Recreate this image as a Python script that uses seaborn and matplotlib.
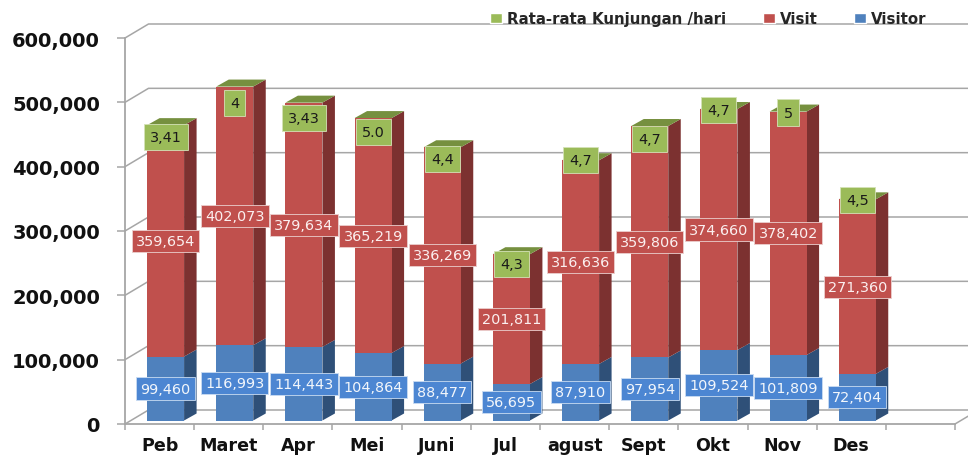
import numpy as np
import matplotlib
matplotlib.use("Agg")
import matplotlib.pyplot as plt
from matplotlib.patches import Patch, Polygon
import seaborn as sns

months = ["Peb", "Maret", "Apr", "Mei", "Juni", "Jul", "agust", "Sept", "Okt", "Nov", "Des"]
visitor = [99460, 116993, 114443, 104864, 88477, 56695, 87910, 97954, 109524, 101809, 72404]
visit = [359654, 402073, 379634, 365219, 336269, 201811, 316636, 359806, 374660, 378402, 271360]
rate = [3.41, 4, 3.43, 5.0, 4.4, 4.3, 4.7, 4.7, 4.7, 5, 4.5]
rate_text = ["3,41", "4", "3,43", "5.0", "4,4", "4,3", "4,7", "4,7", "4,7", "5", "4,5"]
yticks = [0, 100000, 200000, 300000, 400000, 500000, 600000]

# label nudges (pixels below bar top) and styling
rate_nudge = [12, 16, 15, 14, 12, 10, 0, 13, 1, 1, 1]
BLUE, RED, GREEN = "#4F81BD", "#C0504D", "#9BBB59"
BLUE_S, RED_S, GREEN_T = "#2F5078", "#7C3130", "#76903F"
GRID = "#A6A6A6"

W, H = 968, 456
sns.set_theme(style="white")
plt.rcParams["font.family"] = ["DejaVu Sans"]
fig = plt.figure(figsize=(W / 100, H / 100), dpi=100)
ax = fig.add_axes([125 / W, 1 - 425 / H, 830 / W, 386 / H])
ax.patch.set_alpha(0)

n_slots = 12
ax.set_xlim(-0.5, n_slots - 0.5)
ax.set_ylim(0, 600000)
px_x = n_slots / 830.0
px_y = 600000 / 386.0

wall_dx, wall_dy = 23.5 * px_x, 14 * px_y
bar_w = 37 * px_x
bar_dx, bar_dy = 12.5 * px_x, 7 * px_y
off_x, off_y = 6 * px_x, 3.5 * px_y

# walls
for v in yticks:
    ax.plot([-0.5, -0.5 + wall_dx, n_slots - 0.5 + wall_dx],
            [v, v + wall_dy, v + wall_dy],
            color=GRID, lw=1.1, clip_on=False, zorder=1, solid_joinstyle="round")
ax.plot([n_slots - 0.5, n_slots - 0.5 + wall_dx], [0, wall_dy], color=GRID, lw=1.1, clip_on=False, zorder=1)

# front faces via seaborn
xs = np.arange(len(months)) + off_x
vis = np.array(visitor, float)
vst = np.array(visit, float)
rt = np.array(rate, float)
bar_args = dict(native_scale=True, width=bar_w, saturation=1, ax=ax, zorder=4, linewidth=0, legend=False)
sns.barplot(x=xs, y=vis, bottom=off_y, color=BLUE, **bar_args)
sns.barplot(x=xs, y=vst, bottom=off_y + vis, color=RED, **bar_args)
sns.barplot(x=xs, y=rt, bottom=off_y + vis + vst, color=GREEN, **bar_args)
ax.set_xlim(-0.5, n_slots - 0.5)
ax.set_ylim(0, 600000)

# depth faces computed from the data
for i, x in enumerate(xs):
    xl, xr = x - bar_w / 2, x + bar_w / 2
    b0 = off_y
    b1 = b0 + vis[i]
    b2 = b1 + vst[i]
    for lo, hi, c in ((b0, b1, BLUE_S), (b1, b2, RED_S)):
        ax.add_patch(Polygon([(xr, lo), (xr + bar_dx, lo + bar_dy), (xr + bar_dx, hi + bar_dy), (xr, hi)],
                             closed=True, fc=c, ec="none", zorder=3, clip_on=False))
    ax.add_patch(Polygon([(xl, b2), (xr, b2), (xr + bar_dx, b2 + bar_dy), (xl + bar_dx, b2 + bar_dy)],
                         closed=True, fc=GREEN_T, ec="none", zorder=3, clip_on=False))

# data labels
for i, x in enumerate(xs):
    b1 = off_y + vis[i]
    b2 = b1 + vst[i]
    ax.text(x, off_y + vis[i] / 2, f"{visitor[i]:,}", ha="center", va="center", color="#F2F6FB",
            fontsize=10.4, zorder=6, clip_on=False,
            bbox=dict(boxstyle="square,pad=0.28", fc="#4C86D2", ec="#C9DCF2", lw=0.6))
    ax.text(x, b1 + vst[i] / 2, f"{visit[i]:,}", ha="center", va="center", color="#FBEFEF",
            fontsize=10.4, zorder=7 + i * 0.01, clip_on=False,
            bbox=dict(boxstyle="square,pad=0.28", fc=RED, ec="#EBCFCE", lw=0.6))
    ax.annotate(rate_text[i], xy=(x, b2), xytext=(0, -rate_nudge[i]), textcoords="offset pixels",
                ha="center", va="center", color="#1A1A1A", fontsize=10.4, zorder=8,
                annotation_clip=False,
                bbox=dict(boxstyle="square,pad=0.42", fc=GREEN, ec="#D5E2B8", lw=0.6))

# axes
for s in ("top", "right"):
    ax.spines[s].set_visible(False)
for s in ("left", "bottom"):
    ax.spines[s].set_color(GRID)
    ax.spines[s].set_linewidth(1.3)
ax.set_xlabel("")
ax.set_ylabel("")
ax.set_yticks(yticks)
ax.set_yticklabels([f"{v:,}" for v in yticks], fontsize=14, fontweight="bold", color="#111111")
ax.tick_params(axis="y", length=6, width=1.1, color=GRID, pad=12, left=True)
ax.set_xticks(np.arange(n_slots + 1) - 0.5)
ax.set_xticklabels([])
ax.tick_params(axis="x", which="major", length=4.5, width=1.1, color=GRID, bottom=True)
ax.set_xticks(np.arange(len(months)), minor=True)
ax.set_xticklabels(months, minor=True, fontsize=12.6, fontweight="bold", color="#111111")
ax.tick_params(axis="x", which="minor", length=0, pad=8.5, bottom=False)

# legend
handles = [Patch(fc=GREEN, label="Rata-rata Kunjungan /hari"),
           Patch(fc=RED, label="Visit"),
           Patch(fc=BLUE, label="Visitor")]
fig.legend(handles=handles, ncols=3, loc="center left", bbox_to_anchor=(490 / W, 1 - 19.5 / H),
           frameon=False, borderpad=0, borderaxespad=0,
           handlelength=0.8, handleheight=0.65, handletextpad=0.33, columnspacing=2.45,
           prop=dict(weight="bold", size=10.8))

fig.savefig("out.png", dpi=100)
